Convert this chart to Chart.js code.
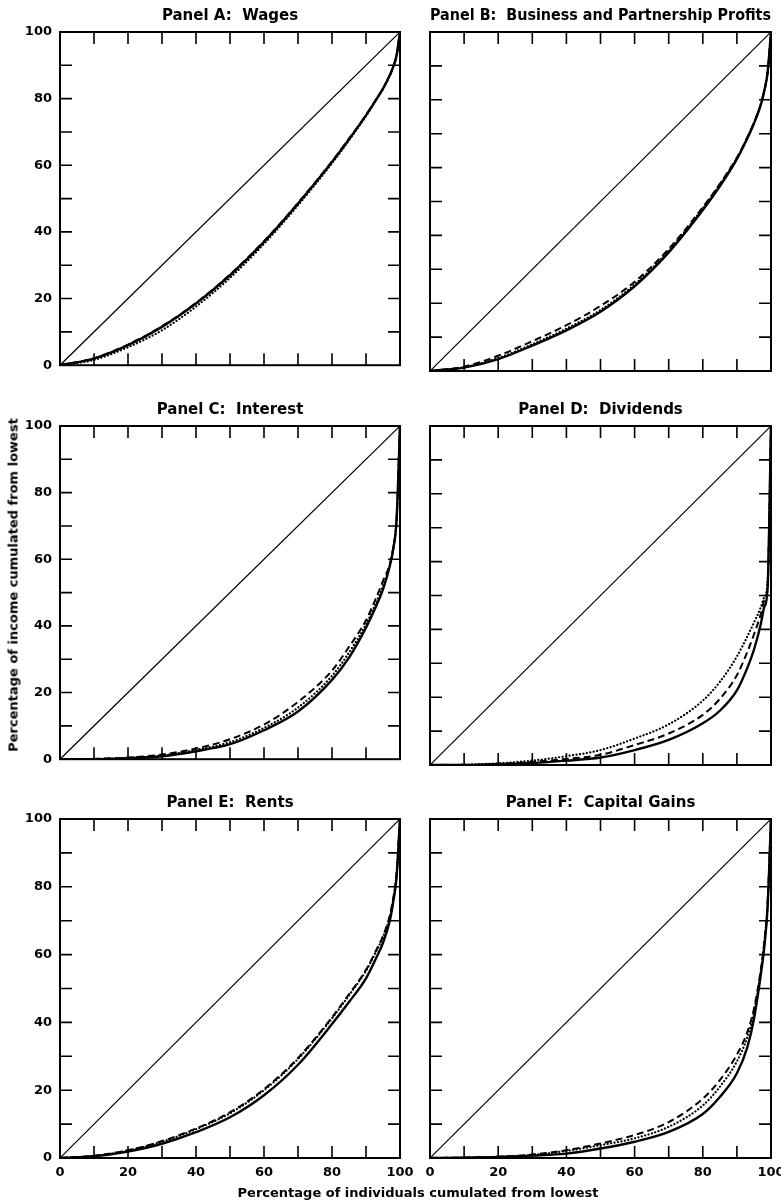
<!DOCTYPE html>
<html>
<head>
<meta charset="utf-8">
<script src="https://cdn.jsdelivr.net/npm/chart.js@4"></script>
<style>
  html, body { margin: 0; padding: 0; background: #fff; }
  body { width: 781px; height: 1203px; position: relative; overflow: hidden; }
  canvas { position: absolute; }
  .axis-title { position: absolute; font: bold 13px "DejaVu Sans", sans-serif; color: #000; white-space: nowrap; }
</style>
</head>
<body>
<canvas id="panelA" width="430" height="381" style="left:0;top:0"></canvas>
<canvas id="panelB" width="400" height="381" style="left:400px;top:0"></canvas>
<canvas id="panelC" width="430" height="381" style="left:0;top:394px"></canvas>
<canvas id="panelD" width="400" height="381" style="left:400px;top:394px"></canvas>
<canvas id="panelE" width="430" height="401" style="left:0;top:787px"></canvas>
<canvas id="panelF" width="400" height="401" style="left:400px;top:787px"></canvas>
<div class="axis-title" style="left:13px;top:585px;transform:translate(-50%,-50%) rotate(-90deg)">Percentage of income cumulated from lowest</div>
<div class="axis-title" style="left:418px;top:1192px;transform:translate(-50%,-50%)">Percentage of individuals cumulated from lowest</div>
<script>
// percentage of individuals (x) shared by every curve
const pct = [0, 10, 20, 30, 40, 50, 60, 70, 80, 85, 90, 93, 95, 97, 98, 99, 100];
const equalX = [0, 100];
const equalY = [0, 100];

// Panel A: Wages
const wagesSolid  = [0, 2.0, 6.0, 11.5, 18.5, 27.0, 37.0, 48.5, 61.0, 67.8, 75.0, 79.7, 83.0, 87.0, 89.5, 93.0, 100];
const wagesDashed = [0, 2.1, 6.2, 11.7, 18.7, 27.2, 37.2, 48.7, 61.2, 68.0, 75.1, 79.8, 83.0, 87.0, 89.5, 93.0, 100];
const wagesDotted = [0, 1.6, 5.4, 10.5, 17.6, 26.2, 36.4, 48.0, 60.6, 67.5, 74.8, 79.6, 83.0, 87.0, 89.5, 93.0, 100];

// Panel B: Business and Partnership Profits
const busSolid  = [0, 1.0, 3.5, 7.5, 12.0, 17.5, 25.0, 35.0, 47.5, 54.5, 62.5, 68.5, 73.0, 78.5, 82.5, 88.0, 100];
const busDashed = [0, 1.3, 4.5, 8.8, 13.5, 19.2, 26.3, 36.0, 48.3, 55.2, 63.0, 68.8, 73.3, 78.7, 82.6, 88.0, 100];
const busDotted = [0, 1.1, 3.8, 7.9, 12.5, 18.0, 25.5, 35.5, 48.0, 55.0, 62.8, 68.7, 73.2, 78.6, 82.5, 88.0, 100];

// Panel C: Interest
const intSolid  = [0, 0, 0.3, 0.9, 2.4, 4.5, 8.7, 14.3, 23.8, 30.5, 39.5, 46.0, 51.0, 58.0, 63.0, 72.0, 100];
const intDashed = [0, 0.1, 0.5, 1.4, 3.2, 6.0, 10.4, 17.2, 26.6, 33.7, 41.7, 48.5, 53.5, 58.5, 63.4, 72.0, 100];
const intDotted = [0, 0.05, 0.4, 1.1, 2.8, 5.1, 9.4, 15.5, 25.0, 32.0, 40.5, 47.0, 52.0, 58.2, 63.2, 72.0, 100];

// Panel D: Dividends
const divSolid  = [0, 0, 0.2, 0.6, 1.3, 2.2, 4.4, 7.4, 12.3, 16.0, 22.0, 28.5, 34.0, 41.5, 46.5, 52.0, 100];
const divDashed = [0, 0, 0.3, 0.9, 1.8, 3.0, 5.9, 9.3, 14.8, 19.5, 26.5, 33.2, 38.5, 44.5, 48.5, 53.0, 100];
const divDotted = [0, 0.1, 0.5, 1.3, 2.6, 4.4, 7.8, 12.0, 19.0, 24.5, 32.0, 37.8, 42.0, 46.5, 49.5, 54.0, 100];

// Panel E: Rents
const rentSolid  = [0, 0.5, 1.9, 4.2, 7.6, 12.0, 18.5, 27.5, 39.5, 46.0, 53.0, 59.0, 63.5, 70.0, 75.5, 83.0, 100];
const rentDashed = [0, 0.7, 2.3, 5.0, 8.7, 13.5, 20.3, 29.5, 41.5, 48.3, 55.5, 61.3, 65.5, 71.5, 76.5, 84.0, 100];
const rentDotted = [0, 0.6, 2.2, 4.8, 8.5, 13.2, 20.0, 29.2, 41.2, 48.0, 55.2, 61.0, 65.2, 71.2, 76.2, 83.8, 100];

// Panel F: Capital Gains
const capSolid  = [0, 0.1, 0.3, 0.7, 1.3, 2.8, 4.8, 7.7, 13.0, 18.0, 25.0, 32.5, 41.0, 54.0, 62.0, 74.0, 100];
const capDashed = [0, 0.1, 0.4, 1.0, 2.3, 4.3, 6.8, 10.6, 17.5, 23.0, 30.5, 37.0, 44.0, 55.5, 63.5, 75.0, 100];
const capDotted = [0, 0.1, 0.35, 0.9, 2.1, 3.8, 5.8, 9.2, 15.5, 21.0, 28.5, 35.5, 43.0, 55.0, 63.0, 75.0, 100];

const FONT = '"DejaVu Sans", sans-serif';
const TICK_LEN = 12;

// box around the plot with inward ticks on all four sides
const frameTicks = {
    id: 'frameTicks',
    afterDatasetsDraw(chart) {
        const { ctx, chartArea: a, scales: { x, y } } = chart;
        ctx.save();
        ctx.strokeStyle = '#000';
        ctx.lineWidth = 2;
        ctx.strokeRect(a.left, a.top, a.right - a.left, a.bottom - a.top);
        ctx.lineWidth = 1.6;
        ctx.beginPath();
        x.ticks.forEach(t => {
            if (t.value <= 0 || t.value >= 100) return;
            const px = x.getPixelForValue(t.value);
            ctx.moveTo(px, a.bottom); ctx.lineTo(px, a.bottom - TICK_LEN);
            ctx.moveTo(px, a.top); ctx.lineTo(px, a.top + TICK_LEN);
        });
        y.ticks.forEach(t => {
            if (t.value <= 0 || t.value >= 100) return;
            const py = y.getPixelForValue(t.value);
            ctx.moveTo(a.left, py); ctx.lineTo(a.left + TICK_LEN, py);
            ctx.moveTo(a.right, py); ctx.lineTo(a.right - TICK_LEN, py);
        });
        ctx.stroke();
        ctx.restore();
    }
};

function curve(values, style) {
    return Object.assign({
        data: pct.map((x, i) => ({ x: x, y: values[i] })),
        borderColor: '#000',
        pointRadius: 0,
        fill: false,
        cubicInterpolationMode: 'monotone'
    }, style);
}

function makePanel(id, title, solid, dashed, dotted, leftCol, bottomRow) {
    const tickFont = { family: FONT, size: 13, weight: 'bold' };
    const label = v => (v % 20 === 0 ? String(v) : '');
    new Chart(document.getElementById(id), {
        type: 'line',
        data: {
            datasets: [
                {
                    data: equalX.map((x, i) => ({ x: x, y: equalY[i] })),
                    borderColor: '#000', borderWidth: 1.2, pointRadius: 0, fill: false
                },
                curve(solid, { borderWidth: 2.4 }),
                curve(dashed, { borderWidth: 2, borderDash: [7, 4] }),
                curve(dotted, { borderWidth: 2.2, borderDash: [0.1, 3.4], borderCapStyle: 'round' })
            ]
        },
        options: {
            responsive: false,
            animation: false,
            layout: {
                padding: {
                    left: leftCol ? 10 : 30,
                    right: leftCol ? 30 : 29,
                    top: 0,
                    bottom: bottomRow ? 2 : 10
                }
            },
            plugins: {
                legend: { display: false },
                tooltip: { enabled: false },
                title: {
                    display: true,
                    fullSize: false,
                    text: title,
                    color: '#000',
                    font: { family: FONT, size: 15, weight: 'bold', lineHeight: 1 },
                    padding: { top: 9, bottom: 8 }
                }
            },
            scales: {
                x: {
                    type: 'linear', min: 0, max: 100,
                    grid: { display: false, drawTicks: false },
                    border: { display: false },
                    ticks: { display: bottomRow, stepSize: 10, padding: 7, color: '#000', font: tickFont, callback: label, maxRotation: 0, autoSkip: false },
                    afterFit: s => { s.height = bottomRow ? 28 : 0; }
                },
                y: {
                    type: 'linear', min: 0, max: 100,
                    grid: { display: false, drawTicks: false },
                    border: { display: false },
                    ticks: { display: leftCol, stepSize: 10, padding: 8, color: '#000', font: tickFont, callback: label, autoSkip: false },
                    afterFit: s => { s.width = leftCol ? 50 : 0; }
                }
            }
        },
        plugins: [frameTicks]
    });
}

makePanel('panelA', 'Panel A:  Wages', wagesSolid, wagesDashed, wagesDotted, true, false);
makePanel('panelB', 'Panel B:  Business and Partnership Profits', busSolid, busDashed, busDotted, false, false);
makePanel('panelC', 'Panel C:  Interest', intSolid, intDashed, intDotted, true, false);
makePanel('panelD', 'Panel D:  Dividends', divSolid, divDashed, divDotted, false, false);
makePanel('panelE', 'Panel E:  Rents', rentSolid, rentDashed, rentDotted, true, true);
makePanel('panelF', 'Panel F:  Capital Gains', capSolid, capDashed, capDotted, false, true);
</script>
</body>
</html>
